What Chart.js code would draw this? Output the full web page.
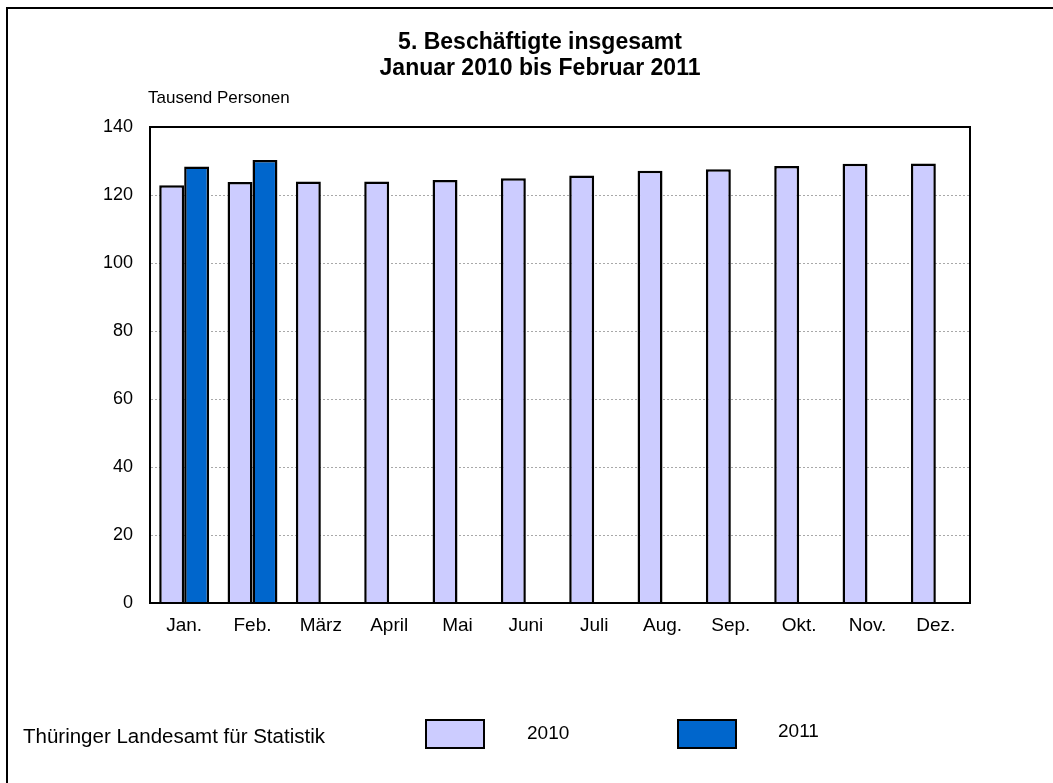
<!DOCTYPE html>
<html lang="de">
<head>
  <meta charset="UTF-8">
  <title>Beschäftigte insgesamt</title>
  <script src="https://cdn.jsdelivr.net/npm/chart.js"></script>
  <style>
    html, body { margin: 0; padding: 0; background: #fff; overflow: hidden; }
    #frame {
      position: absolute; left: 6px; top: 7px; width: 1200px; height: 900px;
      border-left: 2px solid #000; border-top: 2px solid #000;
    }
    #wrap { position: absolute; left: 0; top: 0; width: 1053px; height: 783px; }
  </style>
</head>
<body>
  <div id="frame"></div>
  <div id="wrap"><canvas id="chart" width="1053" height="783"></canvas></div>

  <script>
    // data
    const months = ['Jan.', 'Feb.', 'März', 'April', 'Mai', 'Juni', 'Juli', 'Aug.', 'Sep.', 'Okt.', 'Nov.', 'Dez.'];
    const values2010 = [122.9, 123.8, 124.0, 124.0, 124.4, 124.9, 125.7, 127.1, 127.6, 128.5, 129.2, 129.3];
    const values2011 = [128.4, 130.3, null, null, null, null, null, null, null, null, null, null];
    const seriesNames = ['2010', '2011'];
    const titleLines = ['5. Beschäftigte insgesamt', 'Januar 2010 bis Februar 2011'];
    const unitLabel = 'Tausend Personen';
    const sourceLabel = 'Thüringer Landesamt für Statistik';

    const font = "'Liberation Sans', Arial, sans-serif";

    // title, unit, frame of plot area and the legend at the bottom
    const extras = {
      id: 'extras',
      afterDraw(chart) {
        const ctx = chart.ctx;
        const a = chart.chartArea;
        ctx.save();
        ctx.fillStyle = '#000';
        ctx.textBaseline = 'middle';

        ctx.font = 'bold 23px ' + font;
        ctx.textAlign = 'center';
        ctx.fillText(titleLines[0], 540, 43);
        ctx.fillText(titleLines[1], 540, 69);

        ctx.font = '17px ' + font;
        ctx.textAlign = 'left';
        ctx.fillText(unitLabel, 148, 98);

        ctx.strokeStyle = '#000';
        ctx.lineWidth = 2;
        ctx.strokeRect(a.left, a.top, a.right - a.left, a.bottom - a.top);

        ctx.font = '20.5px ' + font;
        ctx.fillText(sourceLabel, 23, 737);
        ctx.font = '19px ' + font;
        const ds = chart.data.datasets;
        const boxX = [426, 678];
        const textX = [527, 778];
        const textY = [734, 732];
        ds.forEach((d, i) => {
          ctx.fillStyle = d.backgroundColor;
          ctx.fillRect(boxX[i], 720, 58, 28);
          ctx.strokeRect(boxX[i], 720, 58, 28);
          ctx.fillStyle = '#000';
          ctx.fillText(d.label, textX[i], textY[i]);
        });
        ctx.restore();
      }
    };

    new Chart(document.getElementById('chart'), {
      type: 'bar',
      data: {
        labels: months,
        datasets: [
          {
            label: seriesNames[0],
            data: values2010,
            backgroundColor: '#CCCCFF',
            borderColor: '#000',
            borderWidth: 2.5
          },
          {
            label: seriesNames[1],
            data: values2011,
            backgroundColor: '#0066CC',
            borderColor: '#000',
            borderWidth: 2.5
          }
        ]
      },
      options: {
        responsive: false,
        animation: false,
        categoryPercentage: 0.73,
        barPercentage: 1,
        layout: { padding: { top: 127, right: 83, bottom: 140, left: 0 } },
        plugins: {
          legend: { display: false },
          title: { display: false },
          tooltip: { enabled: false }
        },
        scales: {
          x: {
            grid: { display: false, drawTicks: false },
            border: { color: '#000', width: 2 },
            ticks: { color: '#000', font: { family: font, size: 19 }, padding: 11 },
            afterFit(s) { s.height = 40; }
          },
          y: {
            min: 0,
            max: 140,
            grid: {
              color: '#a8a8a8',
              drawTicks: false,
              lineWidth: ctx => (ctx.tick.value === 0 || ctx.tick.value === 140) ? 0 : 1
            },
            border: { color: '#000', width: 2, dash: [2, 2], dashOffset: 0 },
            ticks: { stepSize: 20, color: '#000', font: { family: font, size: 18 }, padding: 17 },
            afterFit(s) { s.width = 150; }
          }
        }
      },
      plugins: [extras]
    });
  </script>
</body>
</html>
